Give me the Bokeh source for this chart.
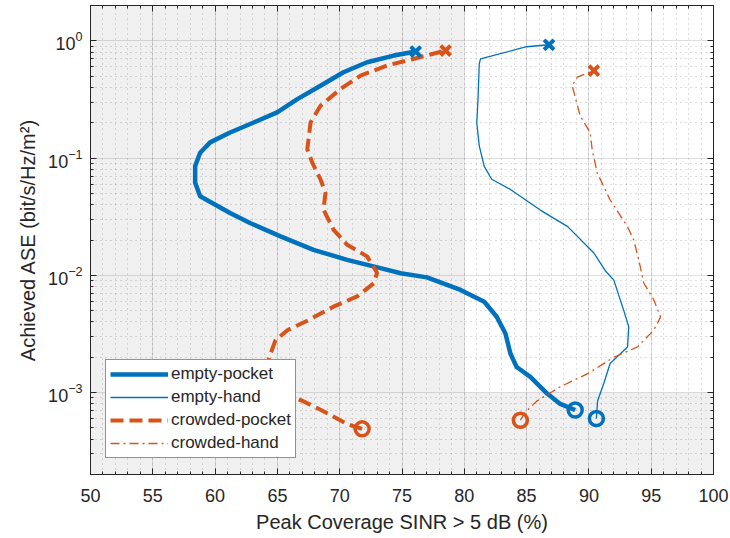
from bokeh.plotting import figure
from bokeh.models import (Range1d, FixedTicker, LinearAxis, LogAxis, BoxAnnotation,
                          Legend, LegendItem)
from bokeh.embed import file_html
from bokeh.resources import INLINE

# Coverage (%) vs achieved ASE, each series listed from the low-ASE end to the high-ASE end
empty_pocket_x = [88.9, 87.7, 86.65, 85.3, 84.2, 83.7, 83.3, 82.6, 81.6, 79.7, 77.0, 74.9,
                  73.27, 70.6, 67.9, 65.25, 62.8, 61.2, 58.8, 58.4, 58.4, 58.8, 59.6, 61.2,
                  63.1, 64.98, 66.6, 68.46, 70.3, 72.2, 74.34, 76.1]
empty_pocket_y = [0.00071, 0.0008, 0.00098, 0.00136, 0.00165, 0.00215, 0.00319, 0.00443,
                  0.00595, 0.0075, 0.0096, 0.0104, 0.0115, 0.01355, 0.0165, 0.0215, 0.0279,
                  0.034, 0.0472, 0.0615, 0.0854, 0.111, 0.136, 0.165, 0.201, 0.245, 0.318,
                  0.414, 0.539, 0.656, 0.748, 0.81]

empty_hand_x = [90.6, 90.7, 91.2, 91.7, 93.1, 93.2, 92.8, 92.0, 91.3, 90.4, 88.3, 86.1,
                83.7, 82.2, 81.6, 81.2, 81.0, 81.1, 81.2, 81.3, 85.0, 86.8]
empty_hand_y = [0.0006, 0.00085, 0.0012, 0.00177, 0.00245, 0.00363, 0.005, 0.0091, 0.011,
                0.0155, 0.026, 0.036, 0.054, 0.066, 0.085, 0.127, 0.2, 0.318, 0.635, 0.70,
                0.89, 0.925]

crowded_pocket_x = [71.8, 70.6, 68.5, 67.0, 65.6, 64.3, 64.3, 64.45, 64.85, 65.8, 67.4,
                    69.5, 71.4, 72.74, 73.0, 72.2, 70.6, 69.5, 68.7, 68.86, 68.46, 67.8,
                    67.4, 67.5, 67.66, 68.46, 70.06, 71.67, 73.8, 75.9, 78.5]
crowded_pocket_y = [0.00049, 0.00054, 0.00071, 0.00085, 0.00098, 0.0014, 0.0019, 0.00215,
                    0.0028, 0.0034, 0.0041, 0.0054, 0.0066, 0.00855, 0.0105, 0.0145, 0.0182,
                    0.0245, 0.0363, 0.0505, 0.0657, 0.0912, 0.119, 0.145, 0.201, 0.279,
                    0.388, 0.505, 0.615, 0.70, 0.826]

crowded_hand_x = [84.5, 84.9, 85.85, 87.7, 89.9, 92.0, 93.9, 95.2, 95.75, 95.2, 94.4, 94.0,
                  93.6, 93.1, 91.7, 90.66, 90.26, 90.1, 89.3, 88.66, 89.06, 90.4]
crowded_hand_y = [0.00058, 0.00068, 0.00085, 0.00112, 0.00145, 0.002, 0.00245, 0.0034,
                  0.0044, 0.0062, 0.0086, 0.0136, 0.020, 0.026, 0.044, 0.075, 0.119, 0.165,
                  0.229, 0.414, 0.489, 0.557]

x_ticks = [50, 55, 60, 65, 70, 75, 80, 85, 90, 95, 100]
y_decades = [1e-3, 1e-2, 1e-1, 1e0]
x_target = 80
y_target = 1e-3

BLUE = "#0072BD"
ORANGE = "#D95319"
INK = "#262626"
FONT = "Liberation Sans"

p = figure(frame_width=623, frame_height=469, x_range=Range1d(50, 100),
           y_range=Range1d(2e-4, 2), y_axis_type="log",
           output_backend="svg", toolbar_location=None,
           background_fill_color="#f0f0f0", border_fill_color="white",
           min_border_left=90, min_border_right=17, min_border_top=5, min_border_bottom=64)
p.outline_line_color = INK
p.outline_line_width = 1

bottom = p.below[0]
left = p.left[0]

# white region where both coverage and ASE targets are met
p.add_layout(BoxAnnotation(left=x_target, bottom=y_target, fill_color="white",
                           fill_alpha=1.0, line_color=None, level="image"))

y_minor = [m * d for d in [1e-4] + y_decades for m in range(2, 10)]
xt = FixedTicker(ticks=x_ticks, minor_ticks=list(range(50, 101)))
yt = FixedTicker(ticks=y_decades, minor_ticks=y_minor)

bottom.ticker = xt
left.ticker = yt

# tick-only axes closing the box on top and right
top = LinearAxis(ticker=xt, major_label_overrides={t: "" for t in x_ticks})
right = LogAxis(ticker=yt, major_label_overrides={t: "" for t in y_decades})
p.add_layout(top, "above")
p.add_layout(right, "right")

for ax in [bottom, left, top, right]:
    ax.axis_line_color = INK
    ax.major_tick_line_color = INK
    ax.minor_tick_line_color = INK
    ax.major_tick_in = 6
    ax.major_tick_out = 0
    ax.minor_tick_in = 3
    ax.minor_tick_out = 0
    ax.major_label_text_font = FONT
    ax.major_label_text_font_size = "18px"
    ax.major_label_text_color = INK

for ax in [top, right]:
    ax.major_label_standoff = 0
    ax.axis_label_standoff = 0

bottom.major_label_standoff = 14
left.major_label_standoff = 8
bottom.axis_label = "Peak Coverage SINR > 5 dB (%)"
left.axis_label = "Achieved ASE (bit/s/Hz/m²)"
for ax in [bottom, left]:
    ax.axis_label_text_font = FONT
    ax.axis_label_text_font_size = "20px"
    ax.axis_label_text_font_style = "normal"
    ax.axis_label_text_color = INK
    ax.axis_label_standoff = 6

for g in [p.xgrid[0], p.ygrid[0]]:
    g.grid_line_color = INK
    g.grid_line_alpha = 0.15
    g.minor_grid_line_color = INK
    g.minor_grid_line_alpha = 0.3
    g.minor_grid_line_dash = "1 4"

r1 = p.line(empty_pocket_x, empty_pocket_y, color=BLUE, line_width=4.5, line_join="round")
r2 = p.line(empty_hand_x, empty_hand_y, color=BLUE, line_width=1.3, line_join="round")
r3 = p.line(crowded_pocket_x, crowded_pocket_y, color=ORANGE, line_width=4, line_dash="13 6")
r4 = p.line(crowded_hand_x, crowded_hand_y, color=ORANGE, line_width=1.3, line_dash="9 4 2 4")

for xs, ys, c in [(empty_pocket_x, empty_pocket_y, BLUE), (empty_hand_x, empty_hand_y, BLUE),
                  (crowded_pocket_x, crowded_pocket_y, ORANGE),
                  (crowded_hand_x, crowded_hand_y, ORANGE)]:
    p.scatter([xs[0]], [ys[0]], marker="circle", size=14, fill_color=None,
              line_color=c, line_width=3.5)
    p.scatter([xs[-1]], [ys[-1]], marker="x", size=14, line_color=c, line_width=4)

legend = Legend(items=[LegendItem(label="empty-pocket", renderers=[r1]),
                       LegendItem(label="empty-hand", renderers=[r2]),
                       LegendItem(label="crowded-pocket", renderers=[r3]),
                       LegendItem(label="crowded-hand", renderers=[r4])],
                location=(15, 16), orientation="vertical")
legend.label_text_font = FONT
legend.label_text_font_size = "17px"
legend.label_text_color = INK
legend.glyph_width = 58
legend.glyph_height = 20
legend.label_height = 20
legend.label_standoff = 3
legend.spacing = 3
legend.padding = 4
legend.margin = 0
legend.border_line_color = INK
legend.border_line_width = 1
legend.background_fill_color = "white"
legend.background_fill_alpha = 1.0
p.add_layout(legend, "center")

open("out.html", "w").write(file_html(p, INLINE))
